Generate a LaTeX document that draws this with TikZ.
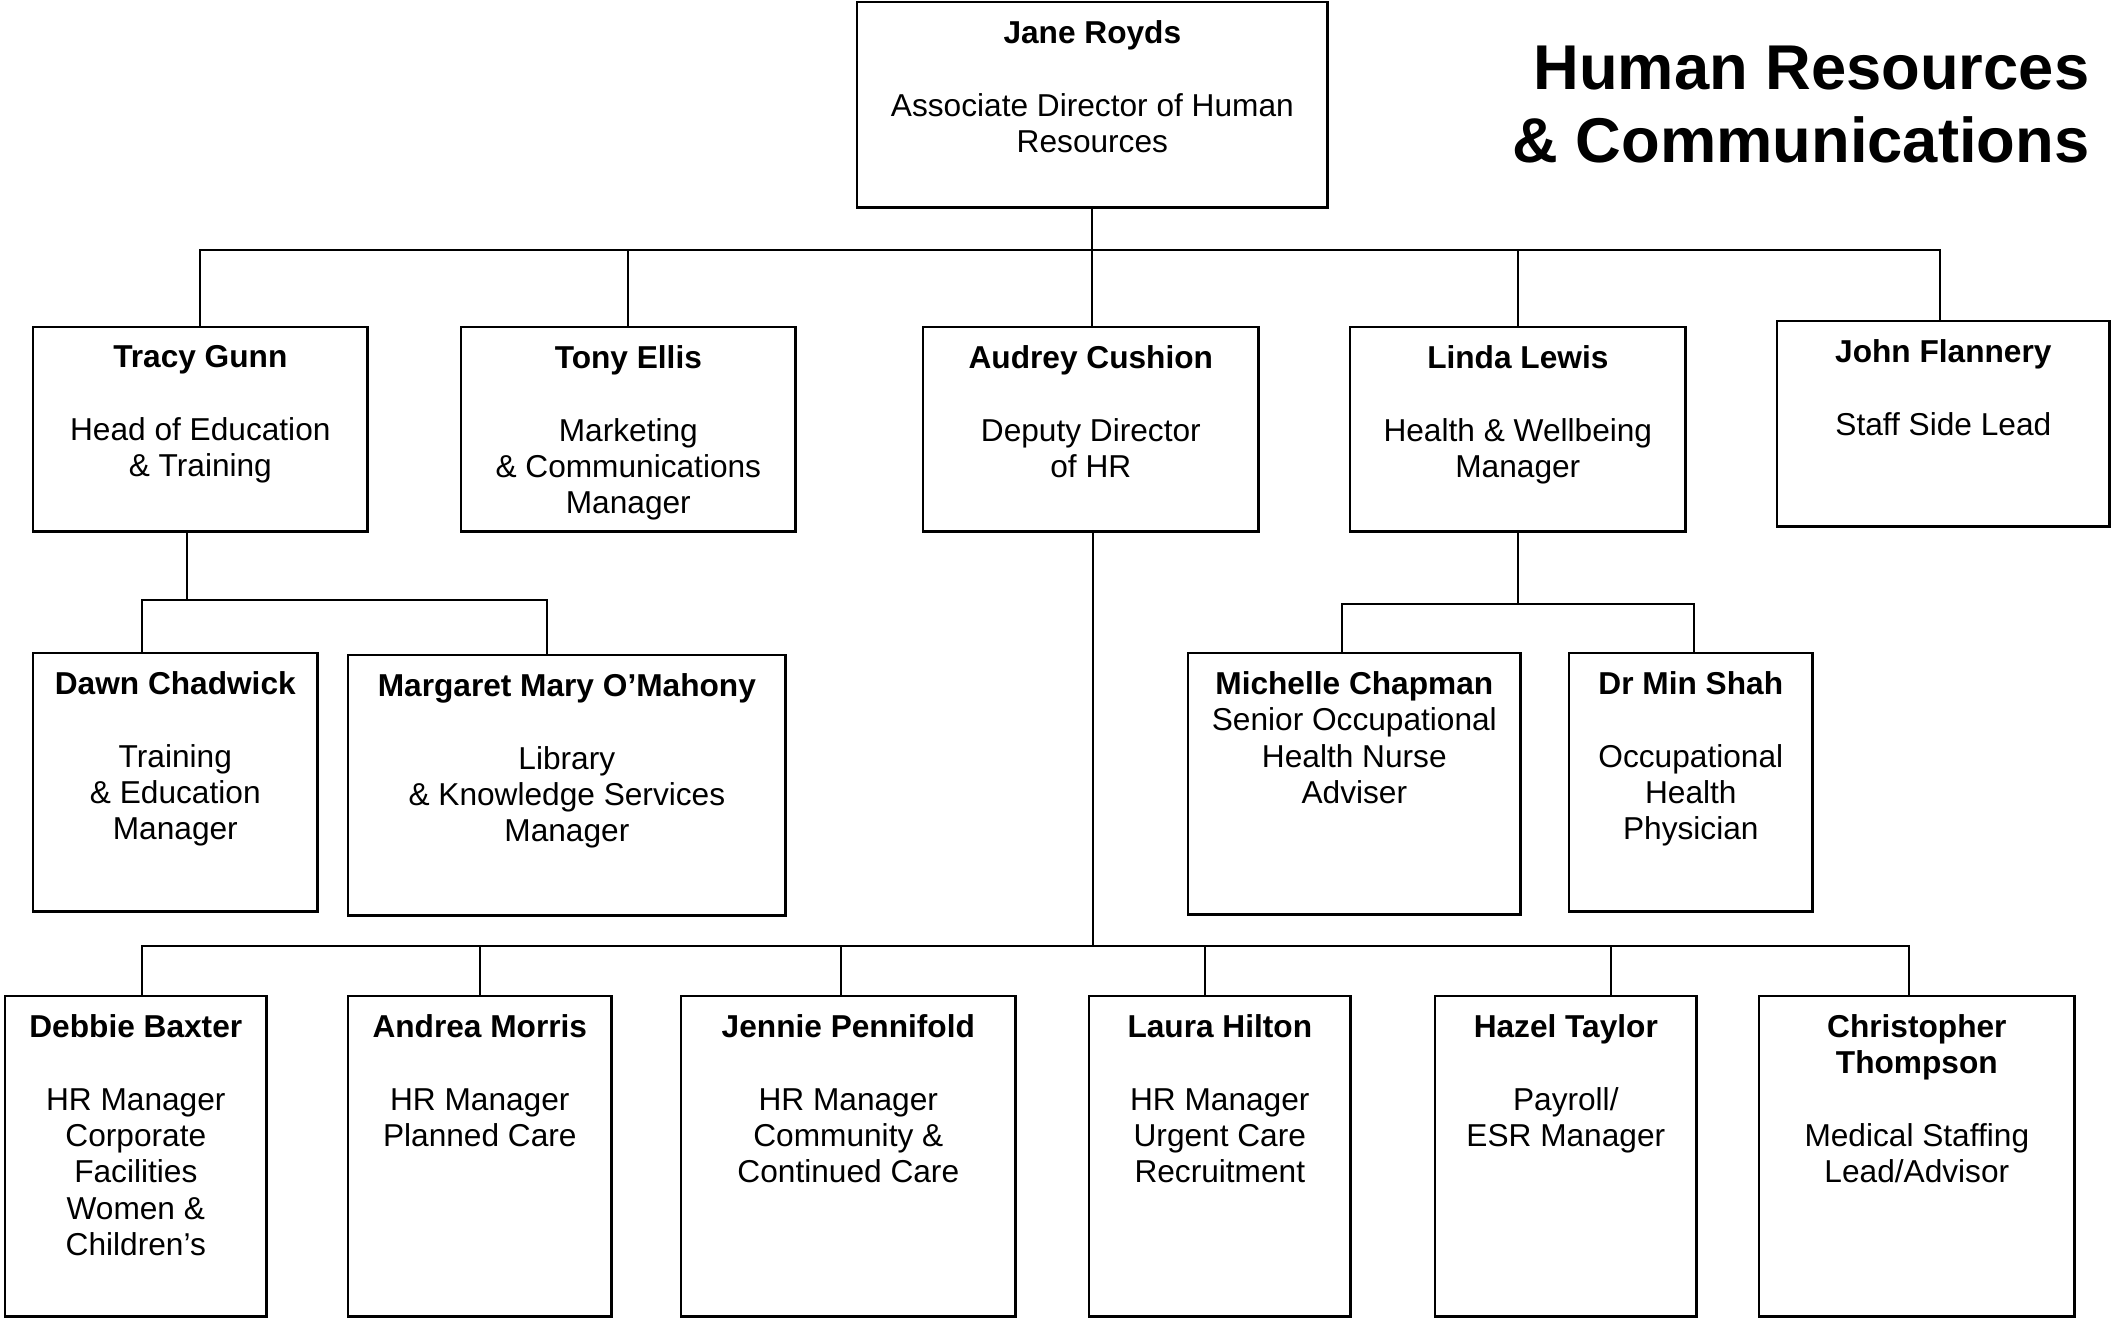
\documentclass[tikz,border=0pt]{standalone}
\usepackage{fontspec}
\setmainfont{Liberation Sans}
\usetikzlibrary{positioning}
\newcommand{\rolegap}{\\[10.35pt]}

\begin{document}
\begin{tikzpicture}[
  x=0.01cm, y=-0.01cm,
  box/.style={draw, line width=0.7pt, anchor=north west, inner sep=0pt},
  txt/.style={font=\fontsize{9}{10.35}\selectfont, align=center, inner sep=0pt, anchor=north},
  link/.style={line width=0.6pt},
  heading/.style={font=\fontsize{18}{20.9}\selectfont\bfseries, align=right,
                  inner sep=0pt, anchor=base east}
]
\useasboundingbox (0,0) rectangle (2111,1319);

% boxes
\node[box, minimum width=4.70cm, minimum height=2.05cm] (jane)     at (856,1)    {};
\node[box, minimum width=3.34cm, minimum height=2.04cm] (tracy)    at (32,326)   {};
\node[box, minimum width=3.34cm, minimum height=2.04cm] (tony)     at (460,326)  {};
\node[box, minimum width=3.35cm, minimum height=2.04cm] (audrey)   at (922,326)  {};
\node[box, minimum width=3.35cm, minimum height=2.04cm] (linda)    at (1349,326) {};
\node[box, minimum width=3.32cm, minimum height=2.05cm] (john)     at (1776,320) {};
\node[box, minimum width=2.84cm, minimum height=2.58cm] (dawn)     at (32,652)   {};
\node[box, minimum width=4.37cm, minimum height=2.60cm] (margaret) at (347,654)  {};
\node[box, minimum width=3.32cm, minimum height=2.61cm] (michelle) at (1187,652) {};
\node[box, minimum width=2.43cm, minimum height=2.58cm] (shah)     at (1568,652) {};
\node[box, minimum width=2.61cm, minimum height=3.20cm] (debbie)   at (4,995)    {};
\node[box, minimum width=2.63cm, minimum height=3.20cm] (andrea)   at (347,995)  {};
\node[box, minimum width=3.34cm, minimum height=3.20cm] (jennie)   at (680,995)  {};
\node[box, minimum width=2.61cm, minimum height=3.20cm] (laura)    at (1088,995) {};
\node[box, minimum width=2.61cm, minimum height=3.20cm] (hazel)    at (1434,995) {};
\node[box, minimum width=3.15cm, minimum height=3.20cm] (chris)    at (1758,995) {};

% texts
\node[txt] (jane-t)     at ([yshift=-0.186cm]jane.north)     {\textbf{Jane Royds}\rolegap Associate Director of Human\\Resources};
\node[txt] (tracy-t)    at ([yshift=-0.186cm]tracy.north)    {\textbf{Tracy Gunn}\rolegap Head of Education\\\& Training};
\node[txt] (tony-t)     at ([yshift=-0.186cm]tony.north)     {\textbf{Tony Ellis}\rolegap Marketing\\\& Communications\\Manager};
\node[txt] (audrey-t)   at ([yshift=-0.186cm]audrey.north)   {\textbf{Audrey Cushion}\rolegap Deputy Director\\of HR};
\node[txt] (linda-t)    at ([yshift=-0.186cm]linda.north)    {\textbf{Linda Lewis}\rolegap Health \& Wellbeing\\Manager};
\node[txt] (john-t)     at ([yshift=-0.186cm]john.north)     {\textbf{John Flannery}\rolegap Staff Side Lead};
\node[txt] (dawn-t)     at ([yshift=-0.186cm]dawn.north)     {\textbf{Dawn Chadwick}\rolegap Training\\\& Education\\Manager};
\node[txt] (margaret-t) at ([yshift=-0.186cm]margaret.north) {\textbf{Margaret Mary O’Mahony}\rolegap Library\\\& Knowledge Services\\Manager};
\node[txt] (michelle-t) at ([yshift=-0.186cm]michelle.north) {\textbf{Michelle Chapman}\\Senior Occupational\\Health Nurse\\Adviser};
\node[txt] (shah-t)     at ([yshift=-0.186cm]shah.north)     {\textbf{Dr Min Shah}\rolegap Occupational\\Health\\Physician};
\node[txt] (debbie-t)   at ([yshift=-0.186cm]debbie.north)   {\textbf{Debbie Baxter}\rolegap HR Manager\\Corporate\\Facilities\\Women \&\\Children’s};
\node[txt] (andrea-t)   at ([yshift=-0.186cm]andrea.north)   {\textbf{Andrea Morris}\rolegap HR Manager\\Planned Care};
\node[txt] (jennie-t)   at ([yshift=-0.186cm]jennie.north)   {\textbf{Jennie Pennifold}\rolegap HR Manager\\Community \&\\Continued Care};
\node[txt] (laura-t)    at ([yshift=-0.186cm]laura.north)    {\textbf{Laura Hilton}\rolegap HR Manager\\Urgent Care\\Recruitment};
\node[txt] (hazel-t)    at ([yshift=-0.186cm]hazel.north)    {\textbf{Hazel Taylor}\rolegap Payroll/\\ESR Manager};
\node[txt] (chris-t)    at ([yshift=-0.186cm]chris.north)    {\textbf{Christopher}\\\textbf{Thompson}\rolegap Medical Staffing\\Lead/Advisor};

\node[heading] (title) at (2090,163) {Human Resources\\\& Communications};

% top level
\coordinate (topbar) at (0,250);
\draw[link] (jane.south) -- (jane.south |- audrey.north);
\draw[link] (tracy.north) |- ([xshift=-0.03cm]john.north |- topbar) -- ([xshift=-0.03cm]john.north);
\foreach \n in {tony, linda}
  \draw[link] (\n.north |- topbar) -- (\n.north);

% under Tracy
\coordinate (tg-bar) at (0,600);
\draw[link] ([xshift=-0.13cm]tracy.south) -- ([xshift=-0.13cm]tracy.south |- tg-bar);
\draw[link] ([xshift=-0.33cm]dawn.north) |- ([xshift=-0.2cm]margaret.north |- tg-bar) -- ([xshift=-0.2cm]margaret.north);

% under Linda
\coordinate (ll-bar) at (0,604);
\draw[link] (linda.south) -- (linda.south |- ll-bar);
\draw[link] ([xshift=-0.12cm]michelle.north) |- ([xshift=0.03cm]shah.north |- ll-bar) -- ([xshift=0.03cm]shah.north);

% under Audrey
\coordinate (ac-bar) at (0,946);
\draw[link] ([xshift=0.025cm]audrey.south) -- ([xshift=0.025cm]audrey.south |- ac-bar);
\draw[link] ([xshift=0.065cm]debbie.north) |- ([xshift=-0.075cm]chris.north |- ac-bar) -- ([xshift=-0.075cm]chris.north);
\foreach \n/\dx in {andrea/0, jennie/-0.07, laura/-0.145, hazel/0.455}
  \draw[link] ([xshift=\dx cm]\n.north |- ac-bar) -- ([xshift=\dx cm]\n.north);
\end{tikzpicture}
\end{document}
